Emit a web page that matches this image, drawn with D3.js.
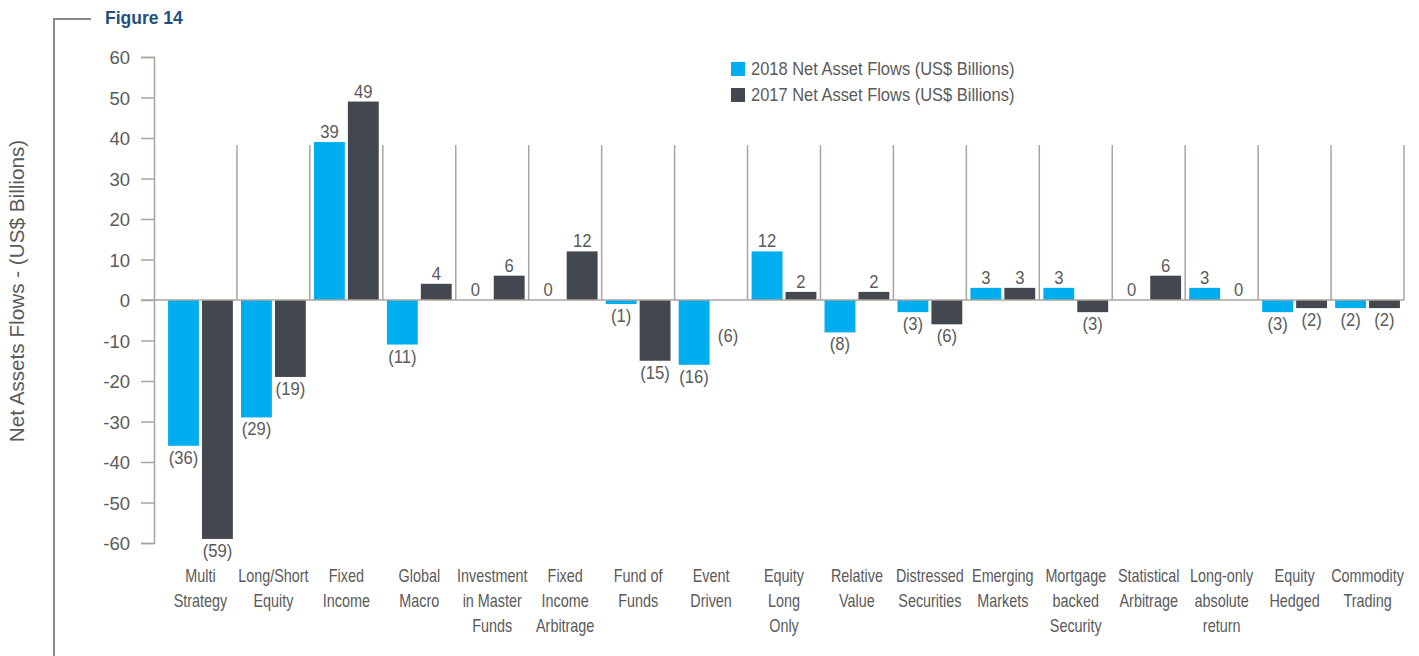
<!DOCTYPE html>
<html>
<head>
<meta charset="utf-8">
<script src="https://cdn.jsdelivr.net/npm/d3@7"></script>
<style>
  body { margin: 0; background: #fff; }
  svg text { font-family: 'Liberation Sans', Arial, sans-serif; fill: #5a5a5a; }
</style>
</head>
<body>
<script>
var categoryLines = [
  ['Multi', 'Strategy'], ['Long/Short', 'Equity'], ['Fixed', 'Income'], ['Global', 'Macro'],
  ['Investment', 'in Master', 'Funds'], ['Fixed', 'Income', 'Arbitrage'], ['Fund of', 'Funds'],
  ['Event', 'Driven'], ['Equity', 'Long', 'Only'], ['Relative', 'Value'], ['Distressed', 'Securities'],
  ['Emerging', 'Markets'], ['Mortgage', 'backed', 'Security'], ['Statistical', 'Arbitrage'],
  ['Long-only', 'absolute', 'return'], ['Equity', 'Hedged'], ['Commodity', 'Trading']
];
var flows2018 = [-36, -29, 39, -11, 0, 0, -1, -16, 12, -8, -3, 3, 3, 0, 3, -3, -2];
var flows2017 = [-59, -19, 49, 4, 6, 12, -15, -6, 2, 2, -6, 3, -3, 6, 0, -2, -2];
// the source chart prints a label for this one but draws no bar
var missingBars2017 = ['Event Driven'];
var seriesNames = ['2018 Net Asset Flows (US$ Billions)', '2017 Net Asset Flows (US$ Billions)'];
var yTicks = [60, 50, 40, 30, 20, 10, 0, -10, -20, -30, -40, -50, -60];

var categories = categoryLines.map(function(l) { return l.join(' '); });

var w = 1419,
    h = 656;
var colors = ['#00aeef', '#434750'];
var lineColor = '#aaa49e';

var svg = d3.select('body').append('svg')
  .attr('width', w)
  .attr('height', h);

var x = d3.scaleBand().domain(categories).range([164, 1404]);
var y = d3.scaleLinear().domain([-60, 60]).range([543, 57]);

// figure bracket + title
svg.append('path')
  .attr('d', 'M91,19H54V656')
  .attr('fill', 'none')
  .attr('stroke', '#8a8a8a')
  .attr('stroke-width', 2);
svg.append('text')
  .attr('x', 105).attr('y', 24)
  .style('font-size', '17.5px')
  .style('font-weight', 'bold')
  .style('fill', '#1f5080')
  .text('Figure 14');

// y axis title
svg.append('text')
  .attr('transform', 'translate(24,291) rotate(-90)')
  .attr('text-anchor', 'middle')
  .style('font-size', '20.7px')
  .text('Net Assets Flows - (US$ Billions)');

// category separators
svg.append('g').selectAll('line')
  .data(categories)
  .enter()
  .append('line')
    .attr('x1', function(d) { return x(d) + x.bandwidth(); })
    .attr('x2', function(d) { return x(d) + x.bandwidth(); })
    .attr('y1', 145)
    .attr('y2', y(0))
    .attr('stroke', lineColor)
    .attr('stroke-width', 1.5);

// y axis
var yAxis = svg.append('g')
  .attr('transform', 'translate(154,0)')
  .call(d3.axisLeft(y).tickValues(yTicks).tickFormat(String)
    .tickSize(13).tickPadding(11).tickSizeOuter(13));
yAxis.attr('font-family', null);
yAxis.select('.domain').attr('stroke', lineColor).attr('stroke-width', 1.5);
yAxis.selectAll('.tick line').attr('stroke', lineColor).attr('stroke-width', 1.5);
yAxis.selectAll('.tick text')
  .style('font-size', '18.5px')
  .style('fill', '#5a5a5a')
  .attr('dy', '0.36em');

// bars
var inner = d3.scaleBand().domain([0, 1]).range([0, x.bandwidth()]).paddingInner(0.09).paddingOuter(0.12);
var rows = [];
categories.forEach(function(c, i) {
  rows.push({ cat: c, s: 0, v: flows2018[i] });
  rows.push({ cat: c, s: 1, v: flows2017[i], hide: missingBars2017.indexOf(c) >= 0 });
});

svg.append('g').selectAll('rect')
  .data(rows.filter(function(d) { return !d.hide && d.v !== 0; }))
  .enter()
  .append('rect')
    .attr('x', function(d) { return x(d.cat) + inner(d.s); })
    .attr('y', function(d) { return y(Math.max(0, d.v)); })
    .attr('width', inner.bandwidth())
    .attr('height', function(d) { return Math.abs(y(d.v) - y(0)); })
    .attr('fill', function(d) { return colors[d.s]; });

// zero line
svg.append('line')
  .attr('x1', 141).attr('x2', 1404)
  .attr('y1', y(0)).attr('y2', y(0))
  .attr('stroke', lineColor)
  .attr('stroke-width', 1.5);

// value labels
svg.append('g').selectAll('text')
  .data(rows)
  .enter()
  .append('text')
    .attr('transform', function(d) {
      var lx = x(d.cat) + inner(d.s) + inner.bandwidth() / 2,
          ly = d.v < 0 ? y(d.v) + 18 : y(d.v) - 4;
      return translation(lx, ly) + ' scale(0.9,1)';
    })
    .attr('text-anchor', 'middle')
    .style('font-size', '18.5px')
    .text(function(d) { return d.v < 0 ? '(' + (-d.v) + ')' : d.v; });

// category labels
var catLabels = svg.append('g').selectAll('text')
  .data(categoryLines)
  .enter()
  .append('text')
    .attr('transform', function(d, i) {
      return translation(x(categories[i]) + x.bandwidth() / 2, 582) + ' scale(0.8,1)';
    })
    .attr('text-anchor', 'middle')
    .style('font-size', '18px');
catLabels.selectAll('tspan')
  .data(function(d) { return d; })
  .enter()
  .append('tspan')
    .attr('x', 0)
    .attr('y', function(d, i) { return i * 25; })
    .text(function(d) { return d; });

// legend
var legend = svg.append('g').attr('transform', translation(731, 62));
legend.selectAll('rect')
  .data(seriesNames)
  .enter()
  .append('rect')
    .attr('x', 0)
    .attr('y', function(d, i) { return i * 26; })
    .attr('width', 14)
    .attr('height', 14)
    .attr('fill', function(d, i) { return colors[i]; });
legend.selectAll('text')
  .data(seriesNames)
  .enter()
  .append('text')
    .attr('transform', function(d, i) { return translation(20, i * 26 + 13) + ' scale(0.89,1)'; })
    .style('font-size', '18.5px')
    .text(function(d) { return d; });

function translation(tx, ty) {
  return 'translate(' + tx + ',' + ty + ')';
}
</script>
</body>
</html>
